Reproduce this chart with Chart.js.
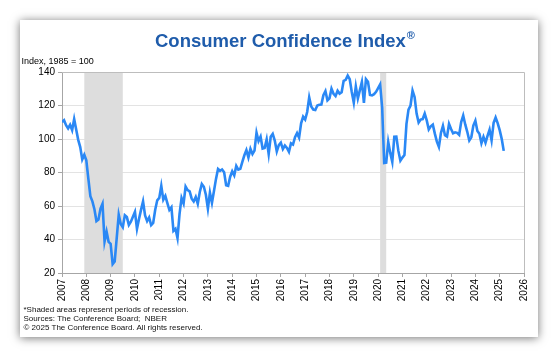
<!DOCTYPE html>
<html>
<head>
<meta charset="utf-8">
<script src="https://cdn.jsdelivr.net/npm/chart.js@4.4.1/dist/chart.umd.min.js"></script>
<style>
  html, body { margin: 0; padding: 0; background: #ffffff; width: 558px; height: 353px; overflow: hidden; }
  #card { position: absolute; left: 20px; top: 20px; width: 518px; height: 317px; background: #fff;
          box-shadow: 0 1px 9px rgba(0,0,0,0.55); }
  #chart { position: absolute; left: 0; top: 0; width: 518px; height: 317px; }
  #title { position: absolute; left: 135px; top: 7.3px; font: bold 18.5px "Liberation Sans", Arial, sans-serif;
           line-height: 18.5px; color: #1F5CAB; white-space: nowrap; }
  #title sup { font-size: 11px; position: relative; top: -1px; margin-left: 1px; }
  #unit { position: absolute; left: 1.5px; top: 37.4px; font: 9px "Liberation Sans", Arial, sans-serif; line-height: 9px; color: #000; white-space: nowrap; }
  #notes { position: absolute; left: 3.5px; top: 286.3px; font: 8px "Liberation Sans", Arial, sans-serif; line-height: 8.9px; color: #111; white-space: nowrap; }
</style>
</head>
<body>
<div id="card">
  <canvas id="chart" width="518" height="317"></canvas>
  <div id="title">Consumer Confidence Index<sup>®</sup></div>
  <div id="unit">Index, 1985 = 100</div>
  <div id="notes">*Shaded areas represent periods of recession.<br>Sources: The Conference Board;&nbsp; NBER<br>© 2025 The Conference Board. All rights reserved.</div>
</div>
<script>
// ---- Data (monthly, starting January of startYear) ----
const startYear = 2007;
const cciValues = [
  // 2007
  110.2, 111.2, 108.2, 106.3, 108.5, 105.3, 111.9, 105.6, 99.5, 95.2, 87.8, 90.6,
  // 2008
  87.3, 76.4, 65.9, 62.8, 58.1, 51.0, 51.9, 58.5, 61.4, 38.8, 44.7, 38.6,
  // 2009
  37.4, 25.3, 26.9, 40.8, 54.8, 49.3, 47.4, 54.5, 53.4, 48.7, 50.6, 53.6,
  // 2010
  56.5, 46.4, 52.3, 57.7, 62.7, 54.3, 51.0, 53.2, 48.6, 49.9, 57.8, 63.4,
  // 2011
  64.8, 72.0, 63.8, 66.0, 61.7, 57.6, 59.2, 45.2, 46.4, 40.9, 55.2, 64.8,
  // 2012
  61.5, 71.6, 69.5, 68.7, 64.4, 62.7, 65.4, 61.3, 68.4, 73.1, 71.5, 66.7,
  // 2013
  58.4, 68.0, 61.9, 69.0, 76.2, 82.1, 81.0, 81.8, 80.2, 72.4, 72.0, 77.5,
  // 2014
  80.7, 78.3, 83.9, 81.7, 82.2, 86.4, 90.3, 93.4, 89.0, 94.1, 91.0, 93.1,
  // 2015
  103.8, 98.8, 101.4, 94.3, 94.6, 99.8, 91.0, 101.3, 103.0, 99.1, 92.6, 96.3,
  // 2016
  97.8, 94.0, 96.1, 94.7, 92.4, 97.4, 96.7, 101.1, 103.5, 100.8, 109.4, 113.3,
  // 2017
  111.6, 116.1, 124.9, 119.4, 117.6, 117.3, 120.0, 120.4, 120.6, 126.2, 128.6, 123.1,
  // 2018
  124.3, 130.0, 127.0, 125.6, 128.8, 127.1, 127.9, 134.7, 135.3, 137.9, 135.7, 128.1,
  // 2019
  121.7, 131.4, 124.2, 129.2, 134.1, 121.5, 135.7, 134.2, 126.3, 126.1, 126.8, 128.2,
  // 2020
  130.4, 132.6, 118.8, 85.7, 85.9, 98.3, 91.7, 86.3, 101.3, 101.4, 92.9, 87.1,
  // 2021
  88.9, 90.4, 109.0, 117.5, 120.0, 128.9, 125.1, 115.2, 109.8, 111.6, 111.9, 115.2,
  // 2022
  111.1, 105.7, 107.6, 108.6, 103.2, 98.4, 95.3, 103.6, 107.8, 102.2, 101.4, 109.0,
  // 2023
  106.0, 103.4, 104.0, 103.7, 102.5, 110.1, 114.0, 108.7, 104.3, 99.1, 101.0, 108.0,
  // 2024
  110.9, 104.8, 103.1, 97.5, 101.3, 97.8, 101.9, 105.6, 99.2, 109.6, 112.8, 109.5,
  // 2025
  105.3, 100.1, 92.9
];
const xTickYears = [2007, 2026];          // first and last year tick
const yTickRange = [20, 140, 20];         // min, max, step
const recessionStarts = [2007.917, 2020.083];
const recessionEnds   = [2009.5,   2020.333];

// ---- Build points ----
const points = cciValues.map((v, i) => ({ x: startYear + i / 12, y: v }));

const recessionPlugin = {
  id: 'recessions',
  beforeDatasetsDraw(chart) {
    const { ctx, chartArea, scales } = chart;
    ctx.save();
    ctx.fillStyle = '#DDDDDD';
    for (let i = 0; i < recessionStarts.length; i++) {
      const x0 = scales.x.getPixelForValue(recessionStarts[i]);
      const x1 = scales.x.getPixelForValue(recessionEnds[i]);
      ctx.fillRect(x0, chartArea.top, x1 - x0, chartArea.bottom - chartArea.top);
    }
    ctx.restore();
  }
};
const framePlugin = {
  id: 'frame',
  afterDraw(chart) {
    const { ctx, chartArea } = chart;
    ctx.save();
    ctx.strokeStyle = '#BDBDBD';
    ctx.lineWidth = 1;
    ctx.beginPath();
    ctx.moveTo(chartArea.left, Math.round(chartArea.top) + 0.5);
    ctx.lineTo(Math.round(chartArea.right) + 0.5, Math.round(chartArea.top) + 0.5);
    ctx.lineTo(Math.round(chartArea.right) + 0.5, chartArea.bottom);
    ctx.stroke();
    ctx.restore();
  }
};

const tickFont = { family: '"Liberation Sans", Arial, sans-serif', size: 10 };

new Chart(document.getElementById('chart'), {
  type: 'line',
  data: {
    datasets: [{
      data: points,
      borderColor: '#2A88F5',
      borderWidth: 2.6,
      pointRadius: 0,
      tension: 0,
      fill: false
    }]
  },
  options: {
    responsive: false,
    animation: false,
    layout: { padding: { left: 0, right: 9, top: 52, bottom: 36 } },
    plugins: { legend: { display: false }, tooltip: { enabled: false } },
    scales: {
      x: {
        type: 'linear',
        min: xTickYears[0],
        max: xTickYears[1],
        ticks: {
          stepSize: 1,
          autoSkip: false,
          maxRotation: 90,
          minRotation: 90,
          padding: 2,
          color: '#000',
          font: tickFont,
          callback: (v) => String(v)
        },
        grid: { drawOnChartArea: false, drawTicks: true, tickLength: 4, color: '#A6A6A6' },
        border: { color: '#A6A6A6', width: 1 },
        afterFit(scale) { scale.height = 28; }
      },
      y: {
        min: yTickRange[0],
        max: yTickRange[1],
        ticks: { stepSize: yTickRange[2], color: '#000', font: tickFont, padding: 3 },
        grid: { color: '#E3E3E3', tickLength: 4, tickColor: '#A6A6A6' },
        border: { color: '#A6A6A6', width: 1 },
        afterFit(scale) { scale.width = 42; }
      }
    }
  },
  plugins: [recessionPlugin, framePlugin]
});
</script>
</body>
</html>
